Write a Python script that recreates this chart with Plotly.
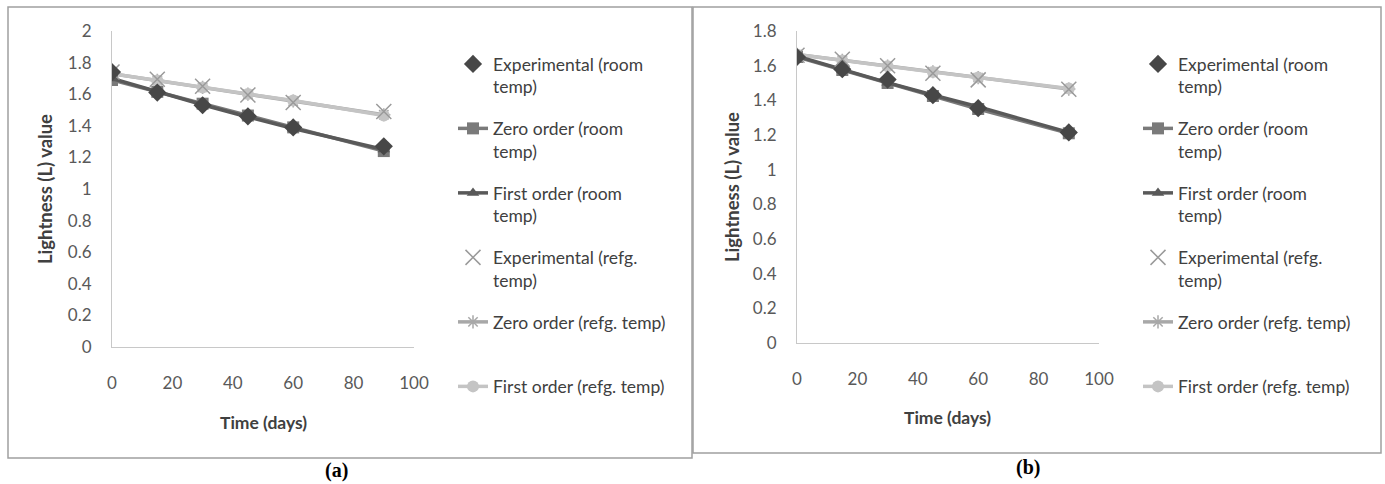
import plotly.graph_objects as go

days = [0, 15, 30, 45, 60, 90]

# Panel (a)
a_exp_room = [1.74, 1.61, 1.53, 1.46, 1.39, 1.27]
a_zero_room = [1.69, 1.615, 1.54, 1.465, 1.39, 1.24]
a_first_room = [1.70, 1.614, 1.533, 1.456, 1.383, 1.25]
a_exp_refg = [1.74, 1.695, 1.65, 1.595, 1.548, 1.49]
a_zero_refg = [1.73, 1.687, 1.643, 1.60, 1.557, 1.47]
a_first_refg = [1.73, 1.686, 1.643, 1.601, 1.56, 1.465]

# Panel (b)
b_exp_room = [1.65, 1.58, 1.52, 1.43, 1.355, 1.215]
b_zero_room = [1.65, 1.575, 1.50, 1.425, 1.35, 1.21]
b_first_room = [1.655, 1.577, 1.502, 1.431, 1.363, 1.215]
b_exp_refg = [1.66, 1.637, 1.60, 1.556, 1.518, 1.464]
b_zero_refg = [1.665, 1.631, 1.598, 1.565, 1.531, 1.465]
b_first_refg = [1.665, 1.63, 1.597, 1.564, 1.532, 1.468]

names = [
    "Experimental (room<br>temp)",
    "Zero order (room<br>temp)",
    "First order (room<br>temp)",
    "Experimental (refg.<br>temp)",
    "Zero order (refg. temp)<br> ",
    "First order (refg. temp)",
]

x_ticks = [0, 20, 40, 60, 80, 100]
a_y_ticks = [0, 0.2, 0.4, 0.6, 0.8, 1, 1.2, 1.4, 1.6, 1.8, 2]
b_y_ticks = [0, 0.2, 0.4, 0.6, 0.8, 1, 1.2, 1.4, 1.6, 1.8]

DARK = "#595959"
LIGHT = "#c4c4c4"

styles = [
    dict(mode="markers", marker=dict(symbol="diamond", size=14, color="#474747")),
    dict(mode="lines+markers", line=dict(color="#7a7a7a", width=3.5),
         marker=dict(symbol="square", size=12, color="#7a7a7a")),
    dict(mode="lines+markers", line=dict(color=DARK, width=3.5),
         marker=dict(symbol="triangle-up", size=11, color=DARK)),
    dict(mode="markers", marker=dict(symbol="x-thin-open", size=15, color="#9a9a9a",
                                     line=dict(width=1.5, color="#9a9a9a"))),
    dict(mode="lines+markers", line=dict(color="#a8a8a8", width=3.5),
         marker=dict(symbol="asterisk-open", size=11, color="#a8a8a8",
                     line=dict(width=1.5, color="#a8a8a8"))),
    dict(mode="lines+markers", line=dict(color=LIGHT, width=3.5),
         marker=dict(symbol="circle", size=12, color=LIGHT)),
]

draw_order = [4, 5, 1, 2, 3, 0]

fig = go.Figure()

for panel, series, xa, ya, lg in [
    ("a", [a_exp_room, a_zero_room, a_first_room, a_exp_refg, a_zero_refg, a_first_refg], "x", "y", "legend"),
    ("b", [b_exp_room, b_zero_room, b_first_room, b_exp_refg, b_zero_refg, b_first_refg], "x2", "y2", "legend2"),
]:
    for i in draw_order:
        fig.add_trace(go.Scatter(
            x=days, y=series[i], name=names[i], xaxis=xa, yaxis=ya,
            legend=lg, legendgroup=panel + str(i), legendrank=i + 1,
            **styles[i]))

axis_common = dict(
    showgrid=False, zeroline=False, showline=True, linecolor="#c8c8c8", linewidth=1,
    tickfont=dict(family="Lato", size=17, color="#595959"),
    ticks="outside", tickcolor="rgba(0,0,0,0)", automargin=False,
)

W, H = 1385, 484
LEG_FONT = dict(family="Lato", size=17.5, color="#404040")
TITLE_FONT = dict(family="Lato", size=17.5, color="#404040")


def ann(text, x, y, font, angle=0):
    return dict(text=text, xref="paper", yref="paper", x=x / W, y=(H - y) / H,
                xanchor="center", yanchor="middle", textangle=angle,
                showarrow=False, font=font)


fig.update_layout(
    width=W, height=H,
    margin=dict(l=0, r=0, t=0, b=0),
    paper_bgcolor="white", plot_bgcolor="white",
    template="none",
    font=dict(family="Lato", color="#404040"),
    xaxis=dict(domain=[112 / W, 414 / W], range=[0, 100], tickvals=x_ticks, ticklen=21,
               anchor="y", **axis_common),
    yaxis=dict(domain=[(H - 347) / H, (H - 31) / H], range=[0, 2], tickvals=a_y_ticks,
               ticklen=16, anchor="x", **axis_common),
    xaxis2=dict(domain=[797 / W, 1099 / W], range=[0, 100], tickvals=x_ticks, ticklen=21,
                anchor="y2", **axis_common),
    yaxis2=dict(domain=[(H - 343) / H, (H - 31) / H], range=[0, 1.8], tickvals=b_y_ticks,
                ticklen=16, anchor="x2", **axis_common),
    legend=dict(x=453 / W, y=(H - 46) / H, xanchor="left", yanchor="top",
                font=LEG_FONT, valign="top", tracegroupgap=16, bgcolor="rgba(0,0,0,0)"),
    legend2=dict(x=1138 / W, y=(H - 46) / H, xanchor="left", yanchor="top",
                 font=LEG_FONT, valign="top", tracegroupgap=16, bgcolor="rgba(0,0,0,0)"),
    shapes=[
        dict(type="rect", xref="paper", yref="paper", x0=8 / W, x1=692 / W,
             y0=(H - 458) / H, y1=(H - 7) / H, line=dict(color="#a0a0a0", width=1.5)),
        dict(type="rect", xref="paper", yref="paper", x0=693 / W, x1=1381 / W,
             y0=(H - 453) / H, y1=(H - 7) / H, line=dict(color="#a0a0a0", width=1.5)),
    ],
    annotations=[
        ann("<b>Time (days)</b>", 263, 422, TITLE_FONT),
        ann("<b>Lightness (L) value</b>", 45, 189,
            dict(family="Lato", size=18.5, color="#404040"), -90),
        ann("<b>Time (days)</b>", 948, 417, TITLE_FONT),
        ann("<b>Lightness (L) value</b>", 732, 187,
            dict(family="Lato", size=18.5, color="#404040"), -90),
        ann("<b>(a)</b>", 336, 470, dict(family="Liberation Serif", size=20, color="#000000")),
        ann("<b>(b)</b>", 1028, 467, dict(family="Liberation Serif", size=20, color="#000000")),
    ],
)

fig.write_html("out.html")
